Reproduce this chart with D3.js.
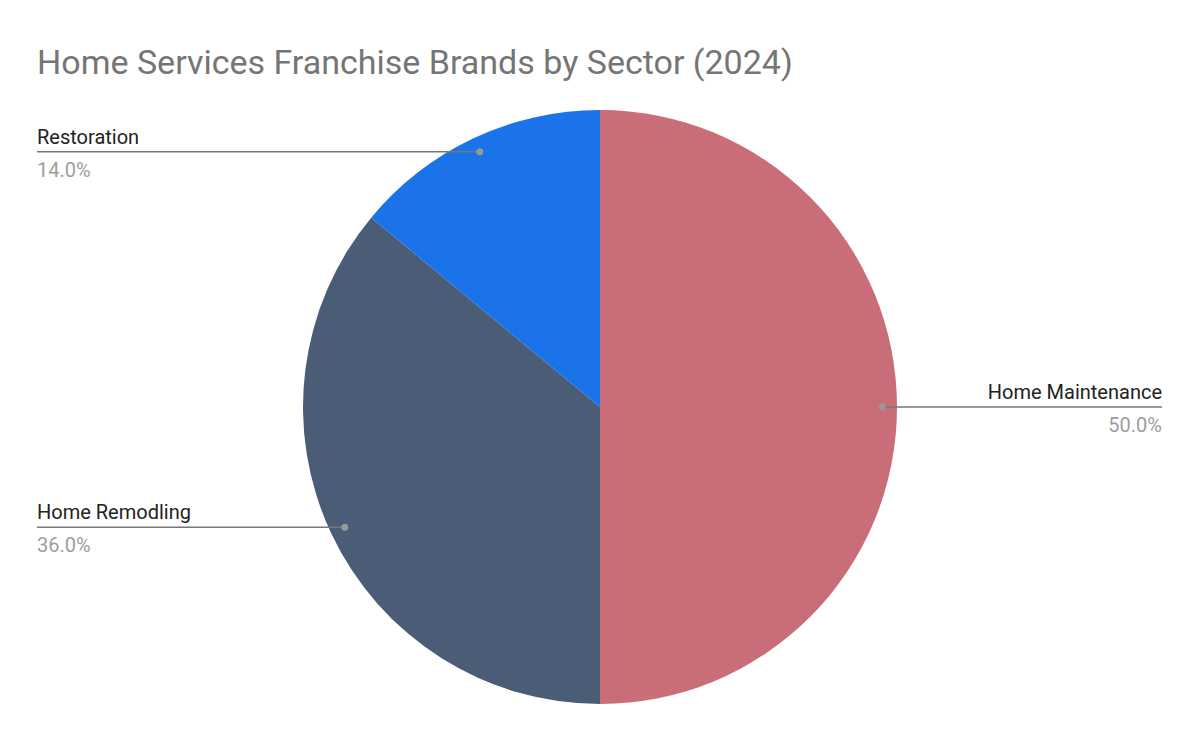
<!DOCTYPE html>
<html><head><meta charset="utf-8">
<script src="https://cdn.jsdelivr.net/npm/d3@7"></script>
<style>body{margin:0;background:#fff}</style></head>
<body><svg id="chart" width="1200" height="742"></svg>
<script>
var sectors = ["Home Maintenance", "Home Remodling", "Restoration"];
var shares = [50.0, 36.0, 14.0];
var colors = ["#c96e78", "#4a5c76", "#1a73e8"];

var width = 1200, height = 742;
var cx = 600, cy = 407, radius = 297;
var svg = d3.select('#chart');

svg.append('text')
  .attr('x', 37).attr('y', 74)
  .attr('font-family', 'Roboto, Arial, sans-serif')
  .attr('font-size', 34)
  .attr('fill', '#757575')
  .text('Home Services Franchise Brands by Sector (2024)');

var data = sectors.map(function(s, i){ return {name: s, value: shares[i], color: colors[i]}; });
var pie = d3.pie().value(function(d){ return d.value; }).sort(null);
var arcs = pie(data);
var arc = d3.arc().innerRadius(0).outerRadius(radius);

var g = svg.append('g').attr('transform', 'translate(' + cx + ',' + cy + ')');
g.selectAll('path').data(arcs).enter().append('path')
  .attr('d', arc)
  .attr('fill', function(d){ return d.data.color; });

// leader lines and labels
arcs.forEach(function(d){
  var mid = (d.startAngle + d.endAngle) / 2;
  var px = cx + Math.sin(mid) * radius * 0.95;
  var py = cy - Math.cos(mid) * radius * 0.95;
  var right = Math.sin(mid) > 0;
  var endX = right ? 1162 : 37;
  svg.append('line')
    .attr('x1', px).attr('y1', py).attr('x2', endX).attr('y2', py)
    .attr('stroke', '#777').attr('stroke-width', 1.5);
  svg.append('circle').attr('cx', px).attr('cy', py).attr('r', 3.5).attr('fill', '#999');
  var anchor = right ? 'end' : 'start';
  svg.append('text')
    .attr('x', endX).attr('y', py - 8)
    .attr('text-anchor', anchor)
    .attr('font-family', 'Roboto, Arial, sans-serif')
    .attr('font-size', 20).attr('fill', '#222')
    .text(d.data.name);
  svg.append('text')
    .attr('x', endX).attr('y', py + 25)
    .attr('text-anchor', anchor)
    .attr('font-family', 'Roboto, Arial, sans-serif')
    .attr('font-size', 20).attr('fill', '#9e9e9e')
    .text(d.data.value.toFixed(1) + '%');
});
</script></body></html>
